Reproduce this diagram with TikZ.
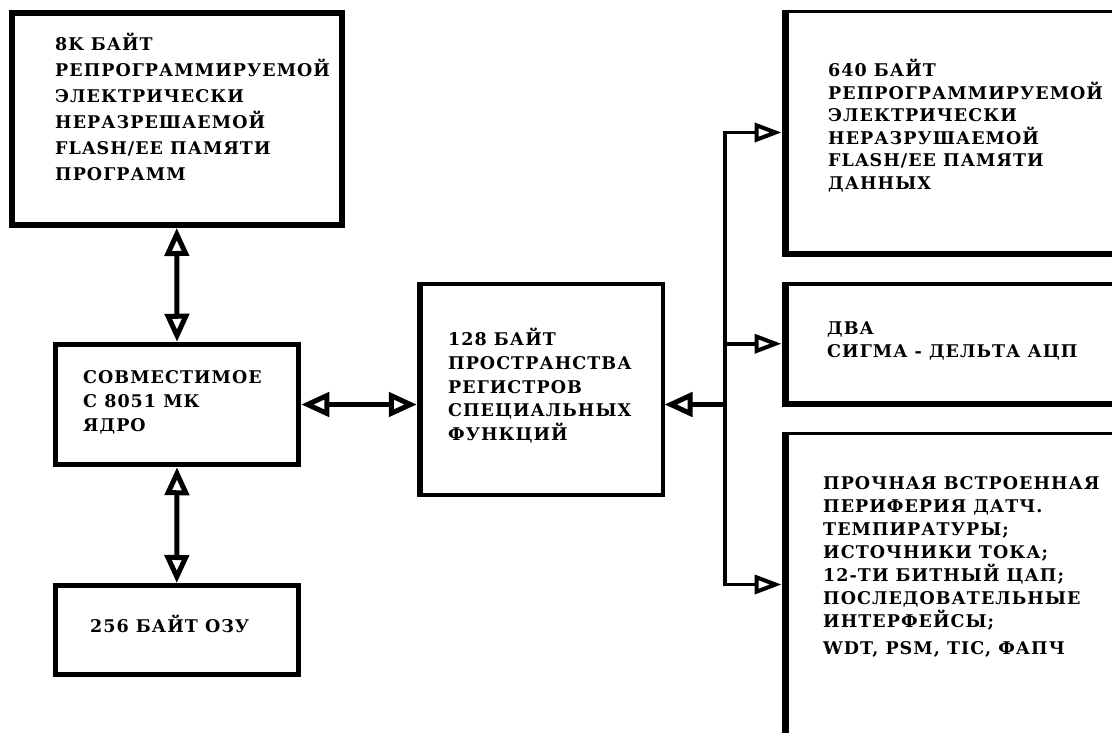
\documentclass[tikz,border=0pt]{standalone}
\usepackage{fontspec}
\newfontfamily\df{DejaVu Serif}[LetterSpace=6]
\usetikzlibrary{arrows.meta}
\tikzset{
  bigtip/.tip={Triangle[open, length=28pt, width=24pt]},
  smalltip/.tip={Triangle[open, length=27pt, width=19pt, line width=4pt]}
}
\begin{document}
\begin{tikzpicture}[x=1pt,y=-1pt,
  box/.style={draw=black, fill=white, rectangle, inner sep=0pt, outer sep=0pt},
  txt/.style={anchor=north west, inner sep=0pt, align=left, font={\df\bfseries\fontsize{17.5}{#1}\selectfont}},
  txt/.default=24,
  thickconn/.style={draw=black, line width=5pt},
  thinconn/.style={draw=black, line width=3.5pt},
  heavy/.style={draw=black, line width=#1, line cap=butt}
]
\useasboundingbox (0,0) rectangle (1112,733);
\clip (0,0) rectangle (1112,733);
\fill[white] (0,0) rectangle (1112,733);

% boxes (centre lines)
\node[box, line width=6pt, minimum width=330.5pt, minimum height=212pt] (mem) at (176.75,119) {};
\node[box, line width=5.5pt, minimum width=243pt, minimum height=120pt] (core) at (177,404.5) {};
\node[box, line width=5pt, minimum width=243.5pt, minimum height=89pt] (ram) at (176.75,630) {};
\node[box, line width=4pt, minimum width=242.5pt, minimum height=211pt] (sfr) at (541.25,389) {};
\node[box, line width=3.5pt, minimum width=355pt, minimum height=242pt] (d640) at (962.5,132.5) {};
\node[box, line width=3.5pt, minimum width=355pt, minimum height=119.5pt] (dva) at (962.5,343.75) {};
\node[box, line width=3pt, minimum width=355pt, minimum height=302pt] (per) at (962.5,584.5) {};

% heavier edges
\draw[heavy=6.5pt] ([yshift=2pt]sfr.north west) -- ([yshift=-2pt]sfr.south west);
\draw[heavy=7pt] ([yshift=1.75pt]d640.north west) -- ([yshift=-3pt]d640.south west);
\draw[heavy=6pt] ([xshift=-3.5pt]d640.south west) -- (d640.south east);
\draw[heavy=7pt] ([yshift=1.75pt]dva.north west) -- ([yshift=-3pt]dva.south west);
\draw[heavy=6pt] ([xshift=-3.5pt]dva.south west) -- (dva.south east);
\draw[heavy=7pt] ([yshift=1.5pt]per.north west) -- (per.south west);

% texts
\node[txt=26] (memt) at (55,33) {\rule{0pt}{17pt}8K БАЙТ\\РЕПРОГРАММИРУЕМОЙ\\ЭЛЕКТРИЧЕСКИ\\НЕРАЗРЕШАЕМОЙ\\FLASH/EE ПАМЯТИ\\ПРОГРАММ};
\node[txt=24] (coret) at (83,366) {\rule{0pt}{17pt}СОВМЕСТИМОЕ\\С 8051 МК\\ЯДРО};
\node[txt=24] (ramt) at (90,615) {\rule{0pt}{17pt}256 БАЙТ ОЗУ};
\node[txt=23.75] (sfrt) at (448,328) {\rule{0pt}{17pt}128 БАЙТ\\ПРОСТРАНСТВА\\РЕГИСТРОВ\\СПЕЦИАЛЬНЫХ\\ФУНКЦИЙ};
\node[txt=22.5] (t640) at (828,59) {\rule{0pt}{17pt}640 БАЙТ\\РЕПРОГРАММИРУЕМОЙ\\ЭЛЕКТРИЧЕСКИ\\НЕРАЗРУШАЕМОЙ\\FLASH/EE ПАМЯТИ\\ДАННЫХ};
\node[txt=23] (dvat) at (827,317) {\rule{0pt}{17pt}ДВА\\СИГМА - ДЕЛЬТА АЦП};
\node[txt=23] (pert) at (823,472) {\rule{0pt}{17pt}ПРОЧНАЯ ВСТРОЕННАЯ\\ПЕРИФЕРИЯ ДАТЧ.\\ТЕМПИРАТУРЫ;\\ИСТОЧНИКИ ТОКА;\\12-ТИ БИТНЫЙ ЦАП;\\ПОСЛЕДОВАТЕЛЬНЫЕ\\ИНТЕРФЕЙСЫ;\\[4pt]WDT, PSM, TIC, ФАПЧ};

% connectors
\draw[thickconn, bigtip-bigtip, shorten <=3pt, shorten >=2.75pt] (mem.south) -- (core.north);
\draw[thickconn, bigtip-bigtip, shorten <=2.75pt, shorten >=2.5pt] (core.south) -- (ram.north);
\draw[thickconn, bigtip-bigtip, shorten <=2.75pt, shorten >=3.25pt] (core.east) -- (core.east -| sfr.west);

\coordinate (hub) at (725,404.5);
\coordinate (bustop) at (hub |- d640.west);
\coordinate (busbot) at (hub |- per.west);
\draw[thinconn, line cap=rect] (bustop) -- (busbot);
\draw[thickconn, -bigtip, shorten >=2pt] (hub) -- (hub -| sfr.east);
\draw[thinconn, -smalltip, shorten >=3.5pt] (bustop) -- (d640.west);
\draw[thinconn, -smalltip, shorten >=3.5pt] (hub |- dva.west) -- (dva.west);
\draw[thinconn, -smalltip, shorten >=3.5pt] (busbot) -- (per.west);
\end{tikzpicture}
\end{document}
